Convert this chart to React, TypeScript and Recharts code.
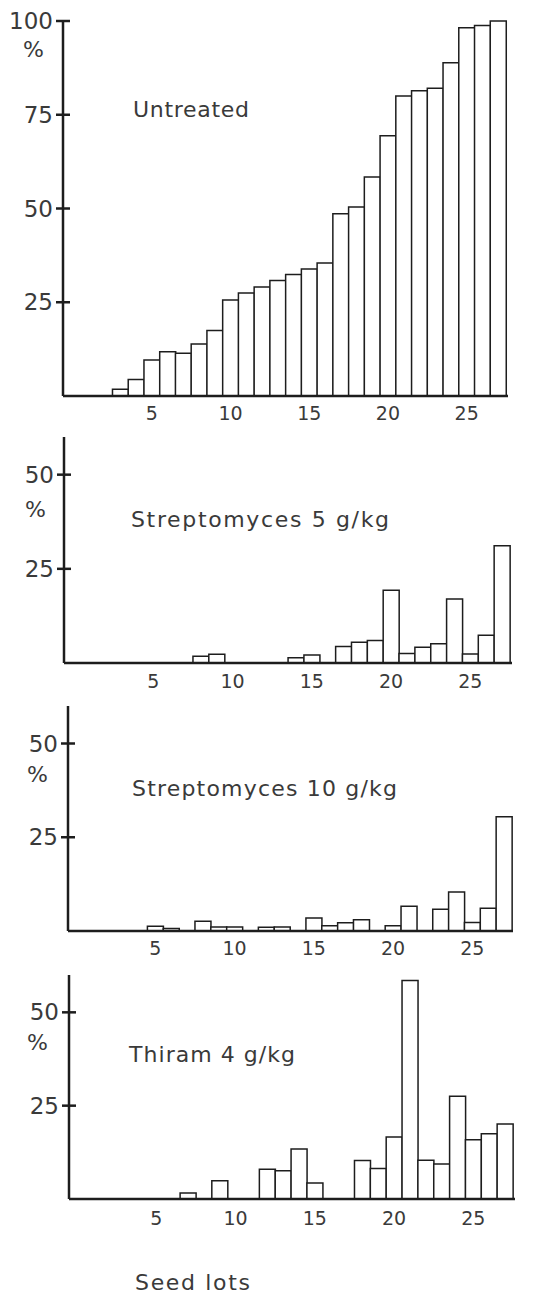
import { BarChart, Bar, XAxis, YAxis } from 'recharts';

// seed lot numbers along the x axis
const lots = [1, 2, 3, 4, 5, 6, 7, 8, 9, 10, 11, 12, 13, 14, 15, 16, 17, 18, 19, 20, 21, 22, 23, 24, 25, 26, 27];

// % infected seed
const untreated = [0, 0, 1.8, 4.4, 9.6, 11.8, 11.4, 13.9, 17.5, 25.6, 27.5, 29.1, 30.8, 32.4, 33.9, 35.5, 48.6, 50.4, 58.4, 69.4, 80.0, 81.4, 82.1, 88.9, 98.2, 98.8, 100];
const strep5 = [0, 0, 0, 0, 0, 0, 0, 1.8, 2.3, 0, 0, 0, 0, 1.4, 2.1, 0, 4.4, 5.5, 6.0, 19.3, 2.5, 4.2, 5.1, 17.0, 2.4, 7.4, 31.1];
const strep10 = [0, 0, 0, 0, 1.3, 0.7, 0, 2.6, 1.1, 1.1, 0, 1.0, 1.1, 0, 3.5, 1.4, 2.2, 3.0, 0, 1.4, 6.6, 0, 5.8, 10.4, 2.3, 6.1, 30.5];
const thiram = [0, 0, 0, 0, 0, 0, 1.6, 0, 4.9, 0, 0, 8.0, 7.6, 13.4, 4.3, 0, 0, 10.3, 8.2, 16.6, 58.5, 10.4, 9.4, 27.5, 15.9, 17.5, 20.1];

const xTickLabels = [5, 10, 15, 20, 25];
const untreatedTicks = [25, 50, 75, 100];
const treatedTicks = [25, 50];

const INK = '#1d1d1d';
const TEXT = '#3a3a3a';
const FONT = '"DejaVu Sans", sans-serif';

// y tick: a short mark crossing the axis plus the number to its left
const YTick = (props: any) => {
  const { x, y, payload } = props;
  return (
    <g>
      <line x1={x - 7} x2={x + 7} y1={y} y2={y} stroke={INK} strokeWidth={2.5} />
      <text x={x - 10} y={y} textAnchor="end" dominantBaseline="central" fontSize={23} fill={TEXT} fontFamily={FONT}>
        {payload.value}
      </text>
    </g>
  );
};

interface PanelProps {
  values: number[];
  yMax: number;
  yTicks: number[];
  top: number;
  plotTop: number;
  baseline: number;
  axisX: number;
  axisEnd: number;
  padLeft: number;
  padRight: number;
  labelGap: number;
}

const Panel = ({ values, yMax, yTicks, top, plotTop, baseline, axisX, axisEnd, padLeft, padRight, labelGap }: PanelProps) => {
  const data = lots.map((lot, i) => ({ lot, value: values[i] }));
  const xAxisHeight = 34;
  return (
    <div style={{ position: 'absolute', left: 0, top }}>
      <BarChart
        width={533}
        height={baseline - top + xAxisHeight}
        data={data}
        margin={{ top: plotTop - top, right: 533 - axisEnd, bottom: 0, left: 0 }}
        barCategoryGap={0}
        barGap={0}
      >
        <XAxis
          dataKey="lot"
          interval={0}
          height={xAxisHeight}
          padding={{ left: padLeft, right: padRight }}
          tickLine={false}
          tickSize={0}
          tickMargin={labelGap}
          axisLine={{ stroke: INK, strokeWidth: 2.5 }}
          tick={{ fontSize: 19, fill: TEXT, fontFamily: FONT }}
          tickFormatter={(v: number) => (xTickLabels.includes(v) ? String(v) : '')}
        />
        <YAxis
          width={axisX}
          type="number"
          domain={[0, yMax]}
          ticks={yTicks}
          interval={0}
          tickLine={false}
          tickSize={0}
          tickMargin={0}
          axisLine={{ stroke: INK, strokeWidth: 2.5 }}
          tick={YTick}
        />
        <Bar dataKey="value" fill="#ffffff" stroke={INK} strokeWidth={1.5} isAnimationActive={false} />
      </BarChart>
    </div>
  );
};

export default function App() {
  return (
    <div style={{ position: 'absolute', left: 0, top: 0, width: 533, height: 1295, background: '#ffffff', overflow: 'hidden' }}>
      <Panel values={untreated} yMax={100} yTicks={untreatedTicks} top={0} plotTop={21} baseline={396} axisX={63} axisEnd={508} padLeft={18} padRight={2} labelGap={11} />
      <Panel values={strep5} yMax={60} yTicks={treatedTicks} top={430} plotTop={437} baseline={663} axisX={64} axisEnd={512} padLeft={18} padRight={2} labelGap={12} />
      <Panel values={strep10} yMax={60} yTicks={treatedTicks} top={698} plotTop={706} baseline={931} axisX={68} axisEnd={513} padLeft={16} padRight={1} labelGap={11} />
      <Panel values={thiram} yMax={60} yTicks={treatedTicks} top={965} plotTop={975} baseline={1199} axisX={69} axisEnd={515} padLeft={16} padRight={2} labelGap={13} />
      <svg width={533} height={1295} style={{ position: 'absolute', left: 0, top: 0, pointerEvents: 'none' }} fontFamily={FONT} fill={TEXT}>
        <text x={23} y={57} fontSize={22}>%</text>
        <text x={25} y={517} fontSize={22}>%</text>
        <text x={27} y={782} fontSize={22}>%</text>
        <text x={27} y={1050} fontSize={22}>%</text>
        <text x={133} y={117} fontSize={22} textLength={116} lengthAdjust="spacing">Untreated</text>
        <text x={131} y={527} fontSize={22} textLength={258} lengthAdjust="spacing">Streptomyces 5 g/kg</text>
        <text x={132} y={796} fontSize={22} textLength={265} lengthAdjust="spacing">Streptomyces 10 g/kg</text>
        <text x={129} y={1062} fontSize={22} textLength={166} lengthAdjust="spacing">Thiram 4 g/kg</text>
        <text x={135} y={1290} fontSize={22} textLength={115} lengthAdjust="spacing">Seed lots</text>
      </svg>
    </div>
  );
}
